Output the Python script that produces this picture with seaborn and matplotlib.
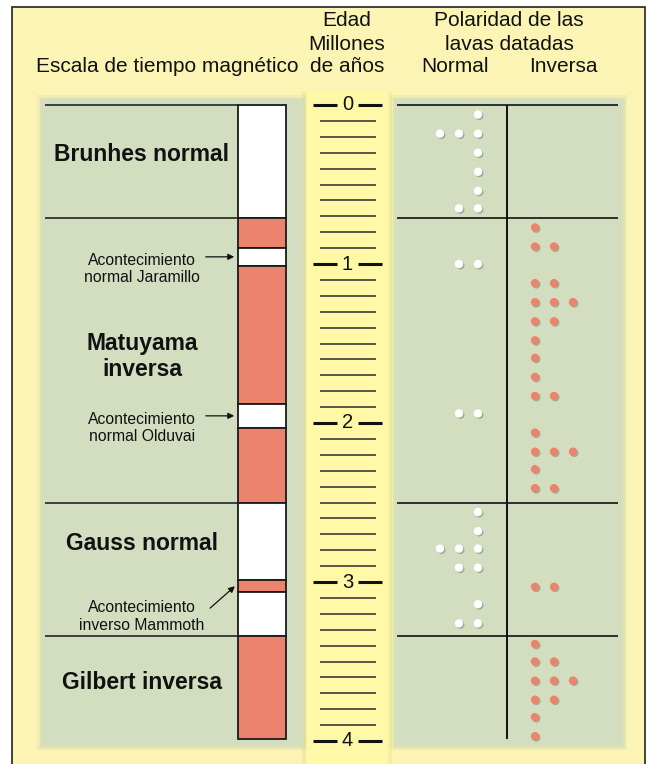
import numpy as np
import pandas as pd
import matplotlib
matplotlib.use("Agg")
import matplotlib.pyplot as plt
from matplotlib.patches import Rectangle
import seaborn as sns

# magnetic polarity column (millions of years)
chron_start = [0.00, 0.71, 0.90, 1.01, 1.88, 2.03, 2.50, 2.99, 3.06, 3.34]
chron_end = [0.71, 0.90, 1.01, 1.88, 2.03, 2.50, 2.99, 3.06, 3.34, 3.99]
chron_polarity = ["Normal", "Inversa", "Normal", "Inversa", "Normal",
                  "Inversa", "Normal", "Inversa", "Normal", "Inversa"]

# epochs
epoch_names = ["Brunhes normal", "Matuyama\ninversa", "Gauss normal", "Gilbert inversa"]
epoch_bounds = [0.00, 0.71, 2.50, 3.34]
epoch_label_age = [0.31, 1.58, 2.76, 3.63]

# short events
event_names = ["Acontecimiento\nnormal Jaramillo", "Acontecimiento\nnormal Olduvai",
               "Acontecimiento\ninverso Mammoth"]
event_age = [0.955, 1.955, 3.025]

# dated lavas: age of each row and number of dots in it
normal_ages = [0.06, 0.18, 0.30, 0.42, 0.54, 0.65, 1.00, 1.94, 2.56, 2.68, 2.79, 2.91, 3.14, 3.26]
normal_counts = [1, 3, 1, 1, 1, 2, 2, 2, 1, 1, 3, 2, 1, 2]
inverse_ages = [0.77, 0.89, 1.12, 1.24, 1.36, 1.48, 1.59, 1.71, 1.83, 2.06, 2.18, 2.29,
                2.41, 3.03, 3.39, 3.50, 3.62, 3.74, 3.85, 3.97]
inverse_counts = [1, 2, 2, 3, 2, 1, 1, 1, 2, 1, 3, 1, 2, 2, 1, 2, 3, 2, 1, 1]

age_labels = [0, 1, 2, 3, 4]

YELLOW = "#fcf4b4"
RULER = "#fff8a6"
GREEN = "#d3dec0"
RED = "#ec846d"

sns.set_theme(style="white")
plt.rcParams["font.family"] = ["Liberation Sans", "DejaVu Sans"]

W, H = 647, 764
PX0, PXS = 105, 159  # pixel row of age 0, pixels per Myr


def age(py):
    return (py - PX0) / PXS


fig = plt.figure(figsize=(W / 100, H / 100), dpi=100)
ax = fig.add_axes([0, 0, 1, 1])
fig.patch.set_facecolor("white")

# background frame
ax.add_patch(Rectangle((12, age(7)), 633, age(780) - age(7), facecolor=YELLOW,
                       edgecolor="#222222", lw=1.2, zorder=0))
# ruler band
ax.add_patch(Rectangle((302, age(92)), 92, age(764) - age(92), facecolor=RULER,
                       edgecolor="none", zorder=0.5))
ax.add_patch(Rectangle((302, age(92)), 4, age(764) - age(92), facecolor="#e9e2a0",
                       edgecolor="none", zorder=0.6, alpha=0.6))
ax.add_patch(Rectangle((388, age(92)), 4, age(764) - age(92), facecolor="#ece5a4",
                       edgecolor="none", zorder=0.6, alpha=0.5))

# green panels with soft edge
for x0, x1 in [(42, 302), (395, 622)]:
    for pad, a in [(5, 0.25), (2.5, 0.45)]:
        ax.add_patch(Rectangle((x0 - pad, age(100 - pad)), x1 - x0 + 2 * pad,
                               age(745 + pad) - age(100 - pad), facecolor="#c9d4b0",
                               edgecolor="none", alpha=a, zorder=0.7))
    ax.add_patch(Rectangle((x0, age(100)), x1 - x0, age(745) - age(100),
                           facecolor=GREEN, edgecolor="none", zorder=0.8))

# polarity column
for s, e, p in zip(chron_start, chron_end, chron_polarity):
    ax.bar(262, e - s, bottom=s, width=48, color="white" if p == "Normal" else RED,
           edgecolor="#1a1a1a", linewidth=1.3, zorder=2)

# epoch boundary lines
ax.hlines(epoch_bounds, 45, 238, color="#333333", lw=1.3, zorder=1.5)
ax.hlines(epoch_bounds, 397, 618, color="#222222", lw=1.3, zorder=1.5)
ax.vlines(507, 0, chron_end[-1], color="#111111", lw=1.4, zorder=1.5)

# epoch and event labels
for name, a in zip(epoch_names, epoch_label_age):
    ax.text(142, a, name, ha="center", va="center", fontsize=16.5, fontweight="bold",
            color="#111111", linespacing=1.15, zorder=3)
for name, a in zip(event_names[:2], event_age[:2]):
    ax.text(142, a + 12 / PXS, name, ha="center", va="center", fontsize=11.3,
            color="#111111", linespacing=1.2, zorder=3)
    ax.annotate("", xy=(237, a), xytext=(203, a),
                arrowprops=dict(arrowstyle="-|>", color="#111111", lw=0.9,
                                mutation_scale=9), zorder=3)
ax.text(142, age(616.5), event_names[2], ha="center", va="center", fontsize=11.3,
        color="#111111", linespacing=1.2, zorder=3)
ax.annotate("", xy=(237, event_age[2] - 0.01), xytext=(208, age(610)),
            arrowprops=dict(arrowstyle="-|>", color="#111111", lw=0.9,
                            mutation_scale=9), zorder=3)

# age ruler
minor = [t for t in np.arange(0.1, 4.0, 0.1) if abs(t - round(t)) > 0.01]
ax.hlines(minor, 320, 376, color="#2a2a2a", lw=1.1, zorder=2)
for t in age_labels:
    ax.hlines(t, 313, 337, color="#111111", lw=2.2, zorder=2)
    ax.hlines(t, 358, 382, color="#111111", lw=2.2, zorder=2)
    ax.text(347.5, t, str(t), ha="center", va="center", fontsize=14.5, color="#111111", zorder=3)

# headers
hdr = dict(ha="center", va="center", fontsize=15, color="#111111")
ax.text(167, age(67), "Escala de tiempo magnético", **hdr)
ax.text(347, age(20), "Edad", **hdr)
ax.text(347, age(44), "Millones", **hdr)
ax.text(347, age(67), "de años", **hdr)
ax.text(509, age(20), "Polaridad de las", **hdr)
ax.text(509, age(44), "lavas datadas", **hdr)
ax.text(455, age(67), "Normal", **hdr)
ax.text(563, age(67), "Inversa", **hdr)

# dated lava dots
rows = []
for a, n in zip(normal_ages, normal_counts):
    for k in range(n):
        rows.append(("Normal", a, 478 - 19 * k))
for a, n in zip(inverse_ages, inverse_counts):
    for k in range(n):
        rows.append(("Inversa", a, 535 + 19 * k))
dots = pd.DataFrame(rows, columns=["polaridad", "edad", "x"])

shadow = dots.assign(x=dots["x"] + 1.3, edad=dots["edad"] + 1.3 / PXS)
sns.scatterplot(data=shadow, x="x", y="edad", color="#8f9383", s=36, edgecolor="none",
                alpha=0.7, legend=False, ax=ax, zorder=3)
sns.scatterplot(data=dots, x="x", y="edad", hue="polaridad",
                palette={"Normal": "white", "Inversa": RED}, s=36, edgecolor="none",
                legend=False, ax=ax, zorder=4)
ax.set_xlim(0, W)
ax.set_ylim(age(H), age(0))
ax.axis("off")

fig.savefig("out.png", dpi=100)
